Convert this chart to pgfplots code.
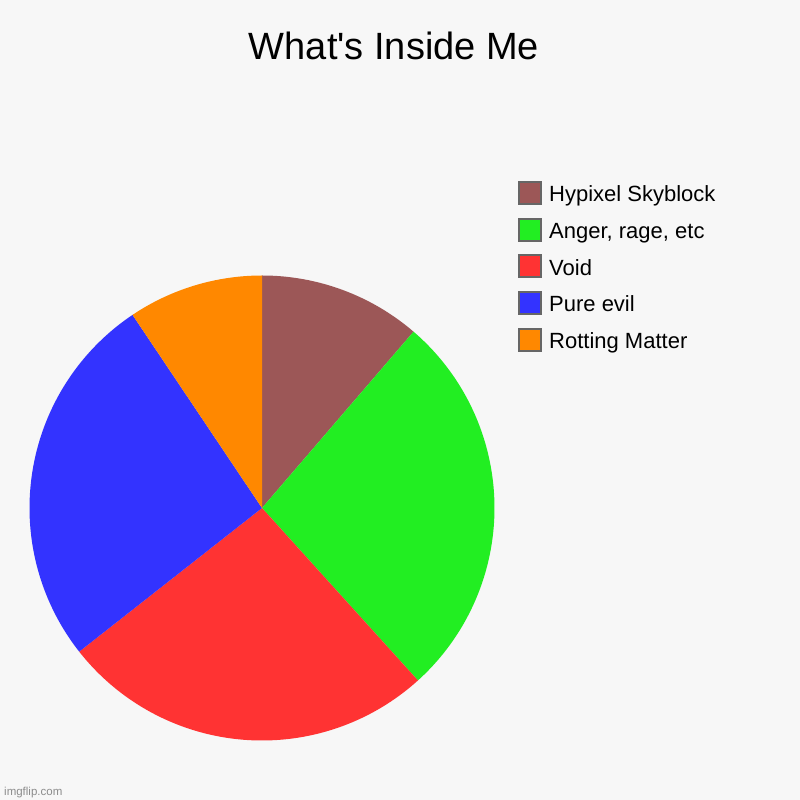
\documentclass[border=0pt]{standalone}
\usepackage{pgfplots}
\pgfplotsset{compat=1.18}
\usepackage{pgfplotstable}
\usepackage{fontspec}
\setmainfont{Liberation Sans}

\definecolor{bgc}{HTML}{F7F7F7}
\definecolor{cHyp}{HTML}{9C5757}
\definecolor{cAng}{HTML}{22EE22}
\definecolor{cVoid}{HTML}{FF3333}
\definecolor{cEvil}{HTML}{3333FF}
\definecolor{cRot}{HTML}{FF8800}

% share of each slice (percent), clockwise from 12 o'clock
\pgfplotstableread{
value color
11.3 cHyp
27.0 cAng
26.1 cVoid
26.2 cEvil
9.4 cRot
}\piedata
\pgfplotstablecreatecol[create col/expr accum={\pgfmathaccuma+\thisrow{value}}{0}]{cum}\piedata

\begin{document}
\begin{tikzpicture}
\fill[bgc] (0,0) rectangle (800pt,800pt);
\begin{axis}[
   at={(0,0)}, anchor=origin,
   x=1pt, y=1pt,
   xmin=0, xmax=800, ymin=0, ymax=800,
   scale only axis,
   hide axis,
   clip=false,
   legend style={
       at={(axis cs:515,621)}, anchor=north west,
       draw=none, fill=none,
       font=\fontsize{22}{24}\selectfont,
       row sep=12.5pt,
       /tikz/every odd column/.append style={column sep=5pt},
   },
   legend cell align=left,
   legend image code/.code={
       \draw[#1, draw=black!60, line width=2pt] (0pt,-9.5pt) rectangle (22pt,12.5pt);
   },
]
\pgfplotsinvokeforeach{0,...,4}{
   \pgfplotstablegetelem{#1}{value}\of\piedata \let\pv\pgfplotsretval
   \pgfplotstablegetelem{#1}{cum}\of\piedata \let\pcum\pgfplotsretval
   \pgfplotstablegetelem{#1}{color}\of\piedata \let\pcol\pgfplotsretval
   \pgfmathsetmacro\sa{90-3.6*(\pcum-\pv)}
   \pgfmathsetmacro\ea{90-3.6*\pcum}
   \edef\temp{\noexpand\fill[\pcol] (axis cs:262,292) -- ++(\sa:232.5pt)
      arc[start angle=\sa, end angle=\ea, radius=232.5pt] -- cycle;}
   \temp
}
\addlegendimage{fill=cHyp}
\addlegendentry{Hypixel Skyblock}
\addlegendimage{fill=cAng}
\addlegendentry{Anger, rage, etc}
\addlegendimage{fill=cVoid}
\addlegendentry{Void}
\addlegendimage{fill=cEvil}
\addlegendentry{Pure evil}
\addlegendimage{fill=cRot}
\addlegendentry{Rotting Matter}
\node[font=\fontsize{38}{44}\selectfont, anchor=center] at (axis cs:394,754) {What\textquotesingle s Inside Me};
\node[font=\fontsize{11.5}{13}\selectfont, text=black!45, anchor=base west, inner sep=0pt] at (axis cs:4,5) {imgflip.com};
\end{axis}
\end{tikzpicture}
\end{document}
